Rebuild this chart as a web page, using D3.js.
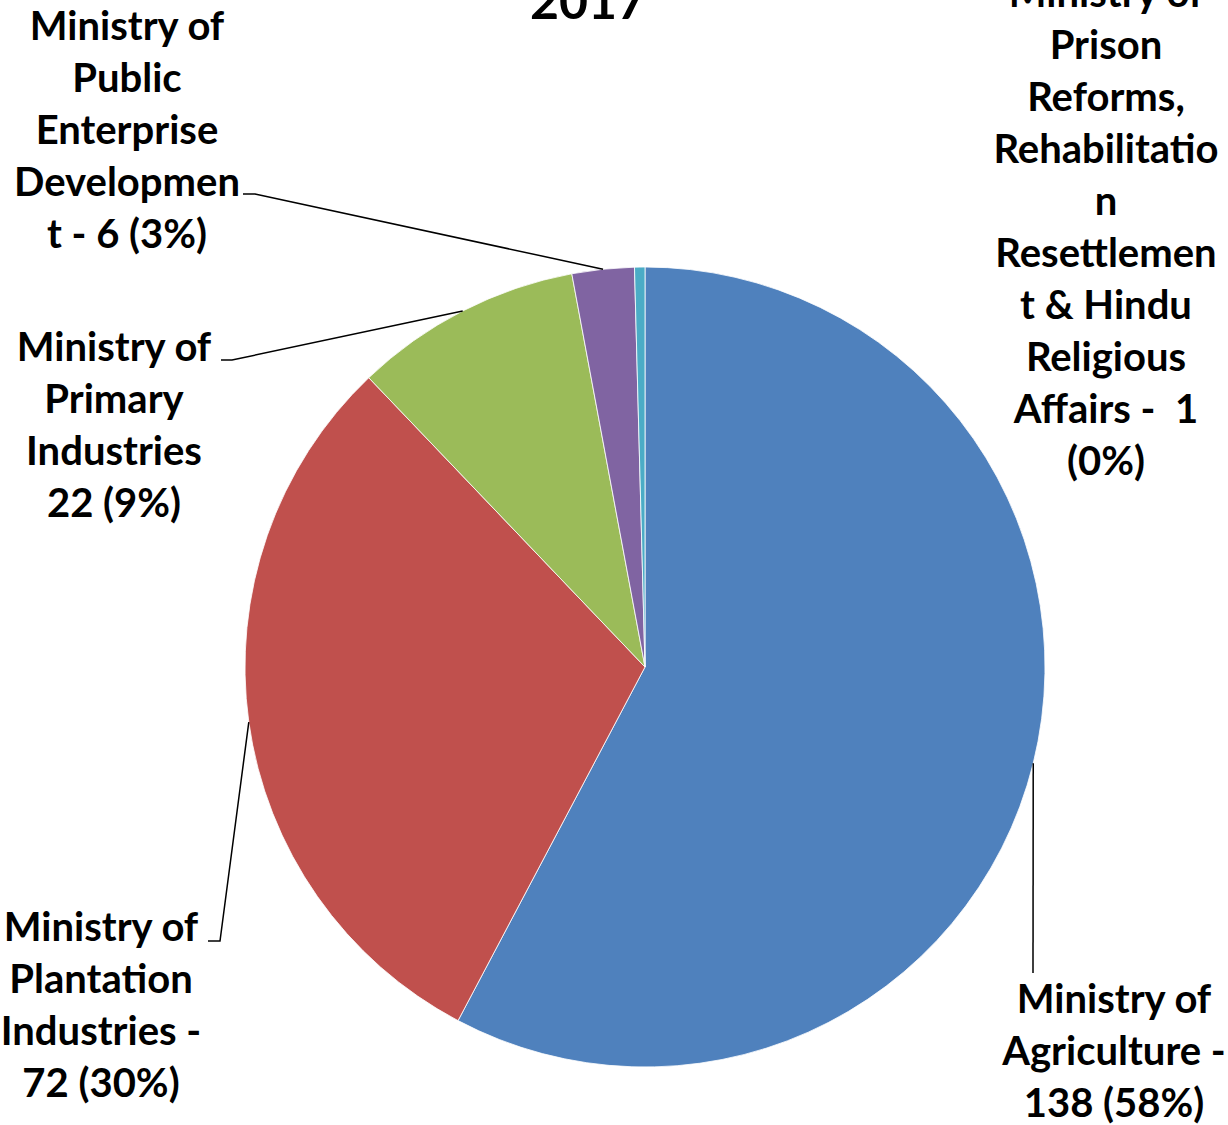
<!DOCTYPE html>
<html>
<head>
	<meta charset="utf-8">
	<title>Pie 2017</title>
	<script src="https://d3js.org/d3.v7.min.js"></script>
	<style type="text/css">
		body { margin:0; background:#fff; }
		text { font-family: Lato, "Open Sans", sans-serif; font-weight: bold; fill:#000; }
	</style>
</head>
<body>
	<script>
		// data
		var ministries = ["Ministry of Agriculture", "Ministry of Plantation Industries", "Ministry of Primary Industries",
			"Ministry of Public Enterprise Development", "Ministry of Prison Reforms, Rehabilitation Resettlement & Hindu Religious Affairs"];
		var counts = [138, 72, 22, 6, 1];
		var colors = ["#4F81BD", "#C0504D", "#9BBB59", "#8064A2", "#4BACC6"];
		var labelLines = [
			["Ministry of", "Agriculture -", "138 (58%)"],
			["Ministry of", "Plantation", "Industries -", "72 (30%)"],
			["Ministry of", "Primary", "Industries", "22 (9%)"],
			["Ministry of", "Public", "Enterprise", "Developmen", "t - 6 (3%)"],
			["Ministry of", "Prison", "Reforms,", "Rehabilitatio", "n", "Resettlemen", "t & Hindu", "Religious", "Affairs -  1", "(0%)"]
		];
		var title = "2017";

		var w = 1228, h = 1125;
		var cx = 645, cy = 667, r = 400;
		var fs = 40, lh = 52;

		// where each label block sits: center x, first baseline, leader elbow
		var labelPos = [
			{x:1114, y:1013, lead:[[1033,973],[1033,973]]},
			{x:101, y:941, lead:[[208,941],[220,941]]},
			{x:114, y:361, lead:[[221,360],[232,360]]},
			{x:127, y:40, lead:[[243,194],[255,194]]},
			{x:1106, y:7, lead:null}
		];

		var svg = d3.select("body").append("svg")
			.attr("width", w)
			.attr("height", h);

		var pie = d3.pie().sort(null).value(function(d){ return d; });
		var arcs = pie(counts);
		var arc = d3.arc().innerRadius(0).outerRadius(r);
		var edge = d3.arc().innerRadius(r).outerRadius(r);

		var g = svg.append("g").attr("transform", "translate(" + cx + "," + cy + ")");
		g.selectAll("path")
			.data(arcs)
			.enter().append("path")
			.attr("d", arc)
			.style("fill", function(d, i){ return colors[i]; })
			.style("stroke", "#fff")
			.style("stroke-width", 0.8);

		// leader lines
		arcs.forEach(function(d, i) {
			var p = labelPos[i];
			if (!p.lead) return;
			var c = edge.centroid(d);
			var pts = [p.lead[0], p.lead[1], [c[0] + cx, c[1] + cy]];
			svg.append("path")
				.attr("d", d3.line()(pts))
				.style("fill", "none")
				.style("stroke", "#000")
				.style("stroke-width", 1.5);
		});

		// labels
		labelLines.forEach(function(lines, i) {
			var p = labelPos[i];
			var t = svg.append("text")
				.attr("text-anchor", "middle")
				.style("font-size", fs + "px");
			lines.forEach(function(s, j) {
				t.append("tspan")
					.attr("x", p.x)
					.attr("y", p.y + j * lh)
					.style("white-space", "pre")
					.text(s);
			});
		});

		svg.append("text")
			.attr("x", 588)
			.attr("y", 19)
			.attr("text-anchor", "middle")
			.style("font-size", "50px")
			.text(title);
	</script>
</body>
</html>
